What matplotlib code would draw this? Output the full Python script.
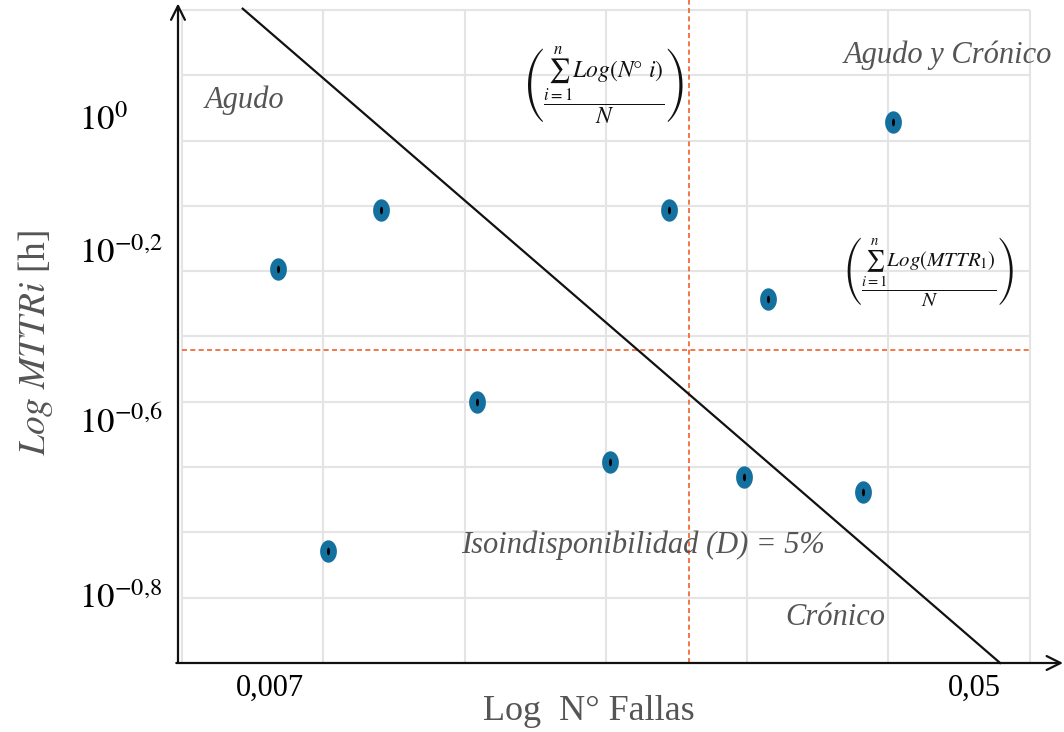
import numpy as np
import matplotlib
matplotlib.use("Agg")
import matplotlib.pyplot as plt
from matplotlib.path import Path

plt.rcParams['font.family'] = ['Liberation Serif', 'DejaVu Serif']
plt.rcParams['mathtext.fontset'] = 'stix'

# ---- data (schematic grid units: one unit = one gridline step) ----
x_points = [0.68, 1.41, 1.03, 2.09, 3.03, 3.45, 4.15, 3.98, 4.82, 5.03]
y_points = [6.03, 6.94, 1.72, 3.99, 3.08, 6.94, 5.57, 2.85, 2.62, 8.29]

mean_x = 3.59          # mean of Log N° fallas (vertical dashed line)
mean_y = 4.79          # mean of Log MTTR (horizontal dashed line)

iso_x = [0.43, 5.79]   # Isoindisponibilidad line end points
iso_y = [10.02, 0.0]

x_tick_pos = [0.62, 5.61]
x_tick_labels = ['0,007', '0,05']
y_tick_pos = [8.35, 6.32, 3.72, 1.04]
y_tick_labels = [r'$10^{0}$', r'$10^{-0{,}2}$', r'$10^{-0{,}6}$', r'$10^{-0{,}8}$']

x_grid = [0, 1, 2, 3, 4, 5, 6]
y_grid = [1, 2, 3, 4, 5, 6, 7, 8, 9, 10]

W, H = 1064, 732
fig = plt.figure(figsize=(W / 100, H / 100), dpi=100)
ax = fig.add_axes([178 / W, (H - 663) / H, (W - 178) / W, 663 / H])
ax.set_xlim(-0.028, 6.242)
ax.set_ylim(0, 10.153)
for s in ax.spines.values():
    s.set_visible(False)

grid_c = '#e4e4e4'
ax.vlines(x_grid, 0, 10, color=grid_c, lw=1.5, zorder=0)
ax.hlines(y_grid, 0, 6, color=grid_c, lw=1.5, zorder=0)

# mean lines
red = '#f0602a'
ax.plot([mean_x, mean_x], [0, 10.15], color=red, lw=1.2, ls=(0, (3, 2)), zorder=1, clip_on=False)
ax.plot([0, 6], [mean_y, mean_y], color=red, lw=1.2, ls=(0, (3, 2)), zorder=1)

# iso line
ax.plot(iso_x, iso_y, color='#111111', lw=1.6, zorder=2, clip_on=False)

# axes arrows
ax.annotate('', xy=(-0.028, 10.1), xytext=(-0.028, 0), xycoords='data',
            arrowprops=dict(arrowstyle='->,head_length=1.0,head_width=0.5', color='#111111', lw=1.6,
                            shrinkA=0, shrinkB=0), annotation_clip=False, zorder=3)
ax.annotate('', xy=(6.235, 0), xytext=(-0.04, 0), xycoords='data',
            arrowprops=dict(arrowstyle='->,head_length=1.0,head_width=0.5', color='#111111', lw=1.6,
                            shrinkA=0, shrinkB=0), annotation_clip=False, zorder=3)

# elliptical markers
t = np.linspace(0, 2 * np.pi, 40)
ell = Path(np.column_stack([0.75 * np.cos(t), np.sin(t)]), closed=True)
inner = Path(np.column_stack([0.4 * np.cos(t), np.sin(t)]), closed=True)
ax.scatter(x_points, y_points, marker=ell, s=260, color='#13709f', linewidths=0, zorder=4)
ax.scatter(x_points, y_points, marker=inner, s=30, color='#000000', linewidths=0, zorder=5)

# ticks
ax.set_xticks(x_tick_pos)
ax.set_xticklabels(x_tick_labels, fontsize=22)
ax.set_yticks(y_tick_pos)
ax.set_yticklabels(y_tick_labels, fontsize=25, ha='left')
ax.tick_params(length=0)
ax.tick_params(axis='x', pad=8)
ax.tick_params(axis='y', pad=71)

gray = '#555555'
ax.set_xlabel('Log  N° Fallas', fontsize=26, color=gray, va='center')
ax.xaxis.set_label_coords((589 - 178) / (W - 178), -(711 - 663) / 663)
ax.set_ylabel(r'$\mathit{Log\ MTTRi}$ [h]', fontsize=27, color=gray, va='center')
ax.yaxis.set_label_coords(-(178 - 36) / (W - 178), (663 - 343) / 663)

# annotations
ax.text(0.446, 8.62, 'Agudo', fontsize=22, style='italic', color=gray, ha='center', va='center')
ax.text(5.42, 9.31, 'Agudo y Crónico', fontsize=22, style='italic', color=gray, ha='center', va='center')
ax.text(4.62, 0.70, 'Crónico', fontsize=22, style='italic', color=gray, ha='center', va='center')
ax.text(3.26, 1.81, 'Isoindisponibilidad (D) = 5%', fontsize=22, style='italic', color=gray,
        ha='center', va='center')

ax.text(2.99, 8.85, r'$\left(\dfrac{\sum_{i=1}^{n} Log(N\degree\ i)}{N}\right)$', fontsize=17,
        color='#111111', ha='center', va='center')
ax.text(5.29, 5.99, r'$\left(\dfrac{\sum_{i=1}^{n} Log(MTTR_{1})}{N}\right)$', fontsize=15,
        color='#111111', ha='center', va='center')

fig.savefig('out.png', dpi=100)
